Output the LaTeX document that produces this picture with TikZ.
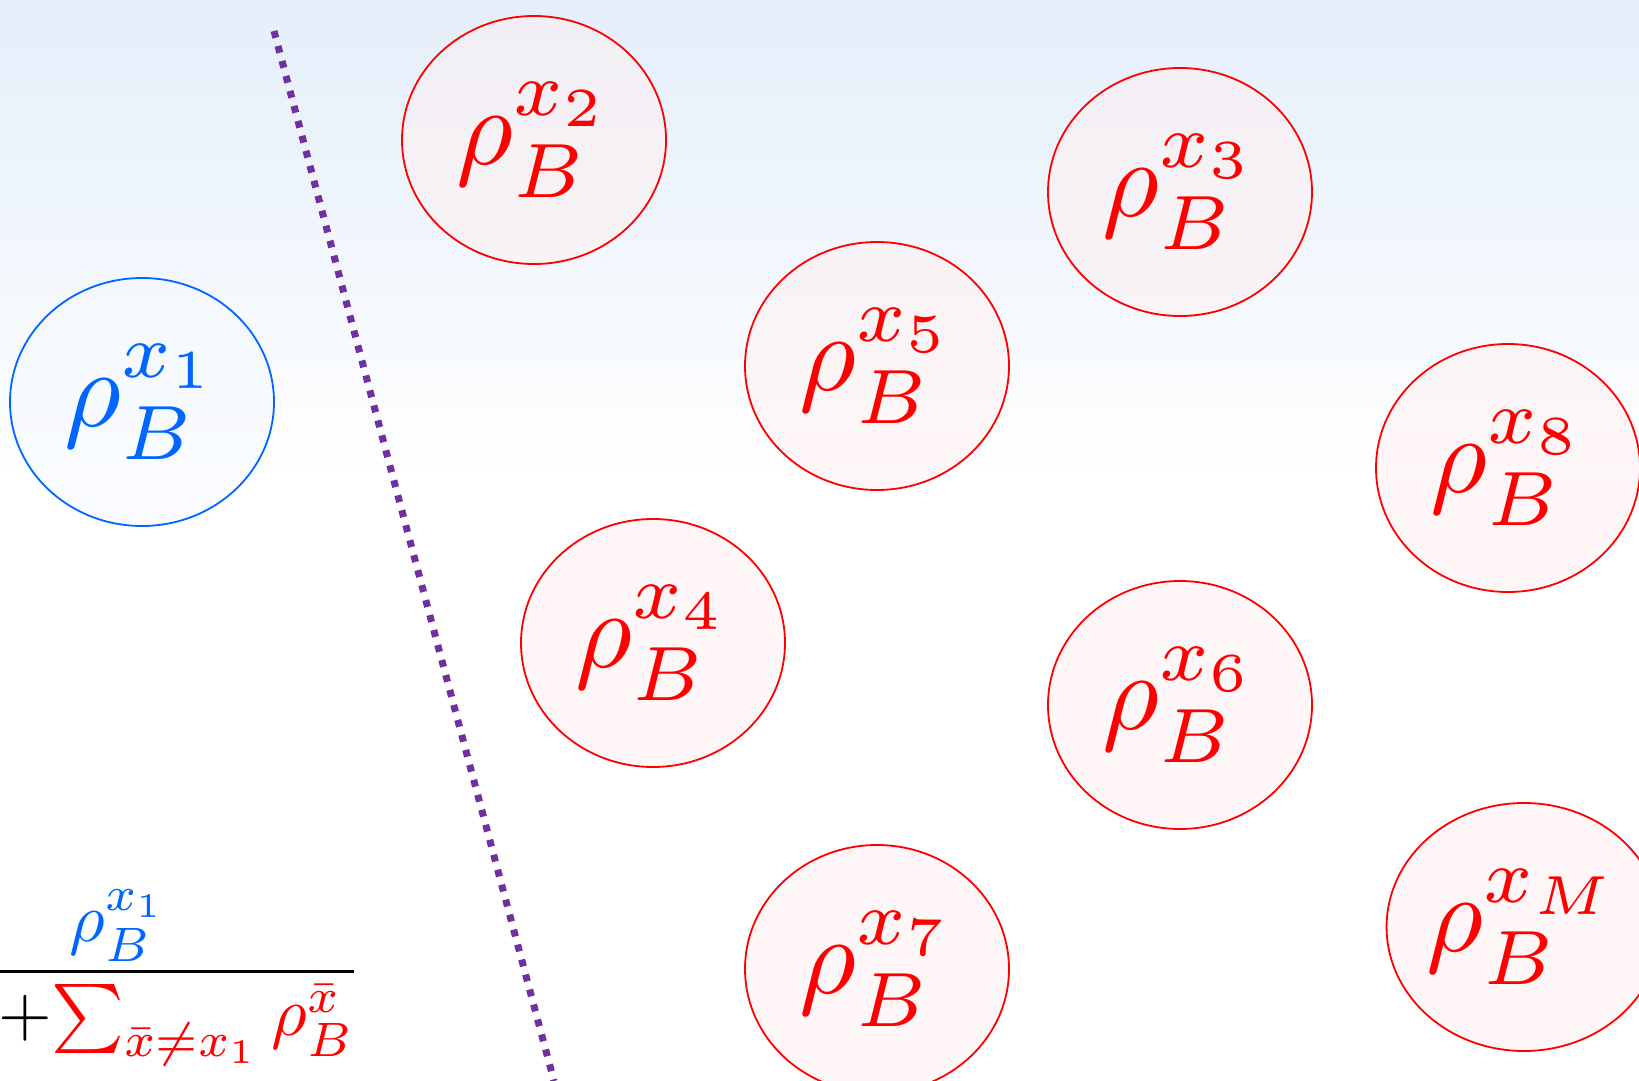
\documentclass[tikz,border=0pt]{standalone}
\usepackage{amsmath}
\usepackage{graphicx}
\usepackage{tikz}
\usetikzlibrary{shapes.geometric}

\definecolor{rhored}{RGB}{255,0,0}
\definecolor{rhoblue}{RGB}{0,102,255}
\definecolor{cutpurple}{RGB}{112,48,160}
\definecolor{skyblue}{RGB}{228,238,250}

\newcommand{\rhob}[1]{\scalebox{11}{$\rho_B^{#1}$}}

\begin{document}
\begin{tikzpicture}[x=1pt, y=-1pt,
        state/.style={ellipse, draw=rhored, line width=1.8pt, fill=rhored!6, fill opacity=0.5, text opacity=1,
            minimum width=264pt, minimum height=248pt, inner sep=0pt, text=rhored},
        mine/.style={state, draw=rhoblue, fill=rhoblue!4, text=rhoblue},
        cut/.style={cutpurple, line width=7pt, dash pattern=on 7pt off 8.5pt}
    ]
        \useasboundingbox (0,0) rectangle (1639,1081);
        \clip (0,0) rectangle (1639,1081);
        \shade[top color=skyblue, bottom color=white] (0,0) rectangle (1639,480);

        \node[mine] (s1) at (142,402) {\rhob{x_1}};
        \node[state] (s2) at (534,140) {\rhob{x_2}};
        \node[state] (s3) at (1180,192) {\rhob{x_3}};
        \node[state] (s5) at (877,366) {\rhob{x_5}};
        \node[state] (s8) at (1508,468) {\rhob{x_8}};
        \node[state] (s4) at (653,643) {\rhob{x_4}};
        \node[state] (s6) at (1180,705) {\rhob{x_6}};
        \node[state] (s7) at (877,969) {\rhob{x_7}};
        \node[state] (sM) at (1524,927) {\rhob{x_M}};

        \coordinate (top) at (274,31);
        \coordinate (bottom) at (554,1081);
        \draw[cut] (top) -- (bottom);

        \node (post) at (118,978) {\scalebox{6.9}{$\displaystyle\frac{\color{rhoblue}\rho_B^{x_1}}
            {{\color{rhoblue}\rho_B^{x_1}}\;{+}{\color{rhored}\sum_{\bar{x}\neq x_1}\rho_B^{\bar{x}}}}$}};
\end{tikzpicture}
\end{document}
